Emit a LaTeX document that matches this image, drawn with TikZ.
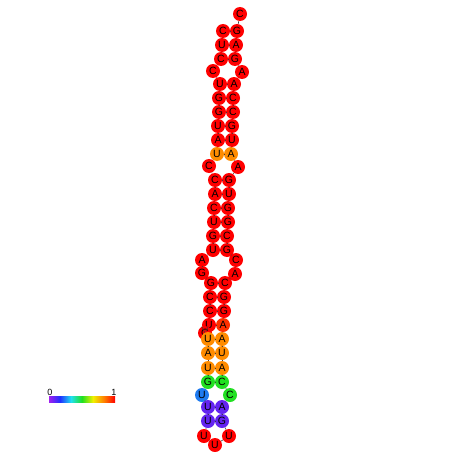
\documentclass[tikz,border=0pt]{standalone}
\usepackage{fontspec}
\setmainfont{Liberation Sans}
\definecolor{nred}{HTML}{FF0000}
\definecolor{nredor}{HTML}{FF3000}
\definecolor{norange}{HTML}{FF8C00}
\definecolor{ngreen}{HTML}{22E022}
\definecolor{nblue}{HTML}{1E7BF0}
\definecolor{npurple}{HTML}{6424F0}
\definecolor{cb1}{HTML}{A020F0}
\definecolor{cb2}{HTML}{2030FF}
\definecolor{cb3}{HTML}{20E0F0}
\definecolor{cb4}{HTML}{20E020}
\definecolor{cb5}{HTML}{F0F000}
\definecolor{cb6}{HTML}{FF8000}
\definecolor{cb7}{HTML}{FF0000}
\tikzset{
  nt/.style={circle, minimum size=14pt, inner sep=0pt, draw=none, font=\fontsize{10.5}{10.5}\selectfont, text=black},
  bb/.style={draw=black!75, line width=0.6pt},
  bp/.style={draw=black!75, line width=0.6pt},
  cbl/.style={font=\fontsize{9}{9}\selectfont}
}
\begin{document}
\begin{tikzpicture}[x=1pt,y=-1pt]
\useasboundingbox (0,0) rectangle (452,452);
\fill[white] (0,0) rectangle (452,452);
% nucleotides
\node[nt,fill=nred] (n1) at (223,31) {C};
\node[nt,fill=nred] (n2) at (222,45) {U};
\node[nt,fill=nred] (n3) at (221,59) {C};
\node[nt,fill=nred] (n4) at (213,71) {C};
\node[nt,fill=nred] (n5) at (220,84) {U};
\node[nt,fill=nred] (n6) at (219,98) {G};
\node[nt,fill=nred] (n7) at (219,112) {G};
\node[nt,fill=nred] (n8) at (218,126) {U};
\node[nt,fill=nred] (n9) at (218,140) {A};
\node[nt,fill=norange] (n10) at (217,154) {U};
\node[nt,fill=nred] (n11) at (209,166) {C};
\node[nt,fill=nred] (n12) at (215,180) {C};
\node[nt,fill=nred] (n13) at (215,194) {A};
\node[nt,fill=nred] (n14) at (214,208) {C};
\node[nt,fill=nred] (n15) at (214,222) {U};
\node[nt,fill=nred] (n16) at (213,236) {G};
\node[nt,fill=nred] (n17) at (213,250) {U};
\node[nt,fill=nred] (n18) at (202,260) {A};
\node[nt,fill=nred] (n19) at (202,273) {G};
\node[nt,fill=nred] (n20) at (211,283) {G};
\node[nt,fill=nred] (n21) at (210,297) {C};
\node[nt,fill=nred] (n22) at (210,311) {C};
\node[nt,fill=nred] (n23) at (209,325) {U};
\node[nt,fill=nred] (n24) at (205,333) {C};
\node[nt,fill=norange] (n25) at (208,339) {U};
\node[nt,fill=norange] (n26) at (208,353) {A};
\node[nt,fill=norange] (n27) at (208,368) {U};
\node[nt,fill=ngreen] (n28) at (208,382) {G};
\node[nt,fill=nblue] (n29) at (202,395) {U};
\node[nt,fill=npurple] (n30) at (208,407) {U};
\node[nt,fill=npurple] (n31) at (208,421) {U};
\node[nt,fill=nred] (n32) at (204,436) {U};
\node[nt,fill=nred] (n33) at (215,445) {U};
\node[nt,fill=nred] (n34) at (229,436) {U};
\node[nt,fill=npurple] (n35) at (222,421) {G};
\node[nt,fill=npurple] (n36) at (222,407) {A};
\node[nt,fill=ngreen] (n37) at (230,395) {C};
\node[nt,fill=ngreen] (n38) at (222,382) {C};
\node[nt,fill=norange] (n39) at (222,368) {A};
\node[nt,fill=norange] (n40) at (222,353) {U};
\node[nt,fill=norange] (n41) at (222,339) {A};
\node[nt,fill=nredor] (n42) at (223,325) {A};
\node[nt,fill=nred] (n43) at (224,311) {G};
\node[nt,fill=nred] (n44) at (224,297) {G};
\node[nt,fill=nred] (n45) at (225,283) {C};
\node[nt,fill=nred] (n46) at (235,274) {A};
\node[nt,fill=nred] (n47) at (236,260) {C};
\node[nt,fill=nred] (n48) at (227,250) {G};
\node[nt,fill=nred] (n49) at (227,236) {C};
\node[nt,fill=nred] (n50) at (228,222) {G};
\node[nt,fill=nred] (n51) at (228,208) {G};
\node[nt,fill=nred] (n52) at (229,194) {U};
\node[nt,fill=nred] (n53) at (229,180) {G};
\node[nt,fill=nred] (n54) at (238,167) {A};
\node[nt,fill=norange] (n55) at (231,154) {A};
\node[nt,fill=nred] (n56) at (232,140) {U};
\node[nt,fill=nred] (n57) at (232,126) {G};
\node[nt,fill=nred] (n58) at (233,112) {C};
\node[nt,fill=nred] (n59) at (233,98) {C};
\node[nt,fill=nred] (n60) at (234,84) {A};
\node[nt,fill=nred] (n61) at (242,72) {A};
\node[nt,fill=nred] (n62) at (235,59) {G};
\node[nt,fill=nred] (n63) at (236,45) {A};
\node[nt,fill=nred] (n64) at (237,31) {G};
\node[nt,fill=nred] (n65) at (240,14) {C};
% backbone
\foreach \i [evaluate=\i as \j using int(\i+1)] in {1,...,64}
  \draw[bb] (n\i) -- (n\j);
% base pairs
\foreach \a/\b in {1/64,2/63,3/62,5/60,6/59,7/58,8/57,9/56,10/55,12/53,13/52,14/51,15/50,16/49,17/48,20/45,21/44,22/43,23/42,25/41,26/40,27/39,28/38,30/36,31/35}
  \draw[bp] (n\a) -- (n\b);
% colour bar
\shade[left color=cb1,right color=cb2] (49,396) rectangle (60,402);
\shade[left color=cb2,right color=cb3] (60,396) rectangle (71,402);
\shade[left color=cb3,right color=cb4] (71,396) rectangle (82,402);
\shade[left color=cb4,right color=cb5] (82,396) rectangle (93,402);
\shade[left color=cb5,right color=cb6] (93,396) rectangle (104,402);
\shade[left color=cb6,right color=cb7] (104,396) rectangle (115,402);
\node[cbl] (cb0) at (50,392) {0};
\node[cbl] (cbone) at (114,392) {1};
\end{tikzpicture}
\end{document}
